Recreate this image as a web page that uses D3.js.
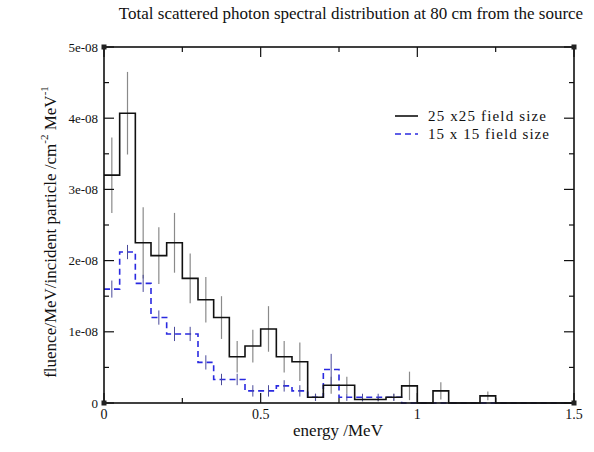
<!DOCTYPE html>
<html>
<head>
<meta charset="utf-8">
<script src="https://cdn.jsdelivr.net/npm/d3@7"></script>
<style>
  body { margin: 0; background: #fff; }
  svg { display: block; }
  text { font-family: "Liberation Serif", "Times New Roman", serif; fill: #111; }
</style>
</head>
<body>
<svg id="chart" width="594" height="452"></svg>
<script>
// ---- data (fluence values in units of 1e-8, bins of 0.05 MeV) ----
const binWidth = 0.05;
const field25Values = [3.2, 4.07, 2.25, 2.07, 2.25, 1.75, 1.45, 1.2, 0.65, 0.8, 1.04, 0.65, 0.58, 0.08, 0.25, 0.25, 0.05, 0.05, 0.08, 0.24, 0, 0.17, 0, 0, 0.1, 0, 0, 0, 0, 0];
const field25Errors = [0.53, 0.58, 0.5, 0.4, 0.42, 0.35, 0.32, 0.3, 0.22, 0.23, 0.32, 0.22, 0.27, 0.05, 0.12, 0.12, 0.03, 0.03, 0.05, 0.2, 0, 0.12, 0, 0, 0.06, 0, 0, 0, 0, 0];
const field15Values = [1.6, 2.12, 1.68, 1.2, 0.97, 0.97, 0.57, 0.33, 0.33, 0.17, 0.17, 0.24, 0.17, 0.08, 0.47, 0.08, 0.08, 0.08, 0.08, 0, 0, 0, 0, 0, 0, 0, 0, 0, 0, 0];
const field15Errors = [0.12, 0.1, 0.12, 0.1, 0.1, 0.1, 0.1, 0.08, 0.08, 0.08, 0.08, 0.08, 0.08, 0.05, 0.22, 0.05, 0.05, 0.05, 0.05, 0, 0, 0, 0, 0, 0, 0, 0, 0, 0, 0];
const xTicks = [0, 0.5, 1, 1.5];
const xTickLabels = ["0", "0.5", "1", "1.5"];
const yTicks = [0, 1e-8, 2e-8, 3e-8, 4e-8, 5e-8];
const yTickLabels = ["0", "1e-08", "2e-08", "3e-08", "4e-08", "5e-08"];
const seriesNames = ["25 x25 field size", "15 x 15 field size"];

(function () {
// ---- layout ----
const pL = 104, pR = 574, pT = 47, pB = 403;
const svg = d3.select("#chart");
svg.append("rect").attr("width", 594).attr("height", 452).attr("fill", "#fff");

const x = d3.scaleLinear().domain([0, 1.5]).range([pL, pR]);
const y = d3.scaleLinear().domain([0, 5e-8]).range([pB, pT]);

const black = "#111";
const blue = "#2a2ae0";

function errorBars(vals, errs, color, width) {
  svg.append("g").selectAll("line")
    .data(vals.map((v, i) => ({ i, v: v * 1e-8, e: errs[i] * 1e-8 })).filter(d => d.e > 0))
    .join("line")
    .attr("x1", d => x((d.i + 0.5) * binWidth))
    .attr("x2", d => x((d.i + 0.5) * binWidth))
    .attr("y1", d => y(Math.max(0, d.v - d.e)))
    .attr("y2", d => y(d.v + d.e))
    .attr("stroke", color).attr("stroke-width", width);
}

function stepPath(vals) {
  const pts = [];
  vals.forEach((v, i) => {
    pts.push([x(i * binWidth), y(v * 1e-8)]);
    pts.push([x((i + 1) * binWidth), y(v * 1e-8)]);
  });
  return d3.line()(pts);
}

errorBars(field25Values, field25Errors, "#8a8a8a", 1.2);

svg.append("path").attr("d", stepPath(field15Values))
  .attr("fill", "none").attr("stroke", blue).attr("stroke-width", 1.6)
  .attr("stroke-dasharray", "6,4");
errorBars(field15Values, field15Errors, "#4a4a9a", 1);

svg.append("path").attr("d", stepPath(field25Values))
  .attr("fill", "none").attr("stroke", black).attr("stroke-width", 1.6);

// frame
svg.append("rect").attr("x", pL).attr("y", pT)
  .attr("width", pR - pL).attr("height", pB - pT)
  .attr("fill", "none").attr("stroke", black).attr("stroke-width", 1.6);

// ticks (inward, all four sides)
const gT = svg.append("g").attr("stroke", black).attr("stroke-width", 1.2);
d3.range(0, 1.5001, 0.25).forEach(v => {
  const major = xTicks.some(t => Math.abs(t - v) < 1e-9);
  const len = major ? 10 : 5;
  gT.append("line").attr("x1", x(v)).attr("x2", x(v)).attr("y1", pB).attr("y2", pB - len);
  gT.append("line").attr("x1", x(v)).attr("x2", x(v)).attr("y1", pT).attr("y2", pT + len);
});
d3.range(0, 5.0001e-8, 0.5e-8).forEach(v => {
  const major = yTicks.some(t => Math.abs(t - v) < 1e-12);
  const len = major ? 10 : 5;
  gT.append("line").attr("y1", y(v)).attr("y2", y(v)).attr("x1", pL).attr("x2", pL + len);
  gT.append("line").attr("y1", y(v)).attr("y2", y(v)).attr("x1", pR).attr("x2", pR - len);
});

// corner markers
[[pL, pB], [pL, pT], [pR, pB], [pR, pT]].forEach(([cx, cy]) => {
  svg.append("rect").attr("x", cx - 2.5).attr("y", cy - 2.5).attr("width", 5).attr("height", 5)
    .attr("fill", "#222");
});

// tick labels
svg.append("g").selectAll("text").data(xTicks).join("text")
  .attr("x", d => x(d)).attr("y", 419).attr("text-anchor", "middle")
  .attr("font-size", 14).text((d, i) => xTickLabels[i]);
svg.append("g").selectAll("text").data(yTicks).join("text")
  .attr("x", 98).attr("y", d => y(d) + 4.5).attr("text-anchor", "end")
  .attr("font-size", 13).text((d, i) => yTickLabels[i]);

// axis titles
svg.append("text").attr("x", 338).attr("y", 436).attr("text-anchor", "middle")
  .attr("font-size", 17).text("energy /MeV");

const yl = svg.append("text").attr("transform", "translate(56,232) rotate(-90)")
  .attr("text-anchor", "middle").attr("font-size", 17);
yl.append("tspan").text("fluence/MeV/incident particle /cm");
yl.append("tspan").attr("dy", -8).attr("font-size", 11).text("-2");
yl.append("tspan").attr("dy", 8).text(" MeV");
yl.append("tspan").attr("dy", -8).attr("font-size", 11).text("-1");

// title
svg.append("text").attr("x", 351).attr("y", 19).attr("text-anchor", "middle")
  .attr("font-size", 17).text("Total scattered photon spectral distribution at 80 cm from the source");

// legend
const leg = svg.append("g");
leg.append("line").attr("x1", 395).attr("x2", 418).attr("y1", 116).attr("y2", 116)
  .attr("stroke", black).attr("stroke-width", 1.6);
leg.append("line").attr("x1", 395).attr("x2", 418).attr("y1", 134).attr("y2", 134)
  .attr("stroke", blue).attr("stroke-width", 1.6).attr("stroke-dasharray", "6,4");
leg.append("text").attr("x", 428).attr("y", 121).attr("font-size", 15)
  .attr("textLength", 118).attr("lengthAdjust", "spacing").text(seriesNames[0]);
leg.append("text").attr("x", 428).attr("y", 139).attr("font-size", 15)
  .attr("textLength", 121).attr("lengthAdjust", "spacing").text(seriesNames[1]);
})();
</script>
</body>
</html>
